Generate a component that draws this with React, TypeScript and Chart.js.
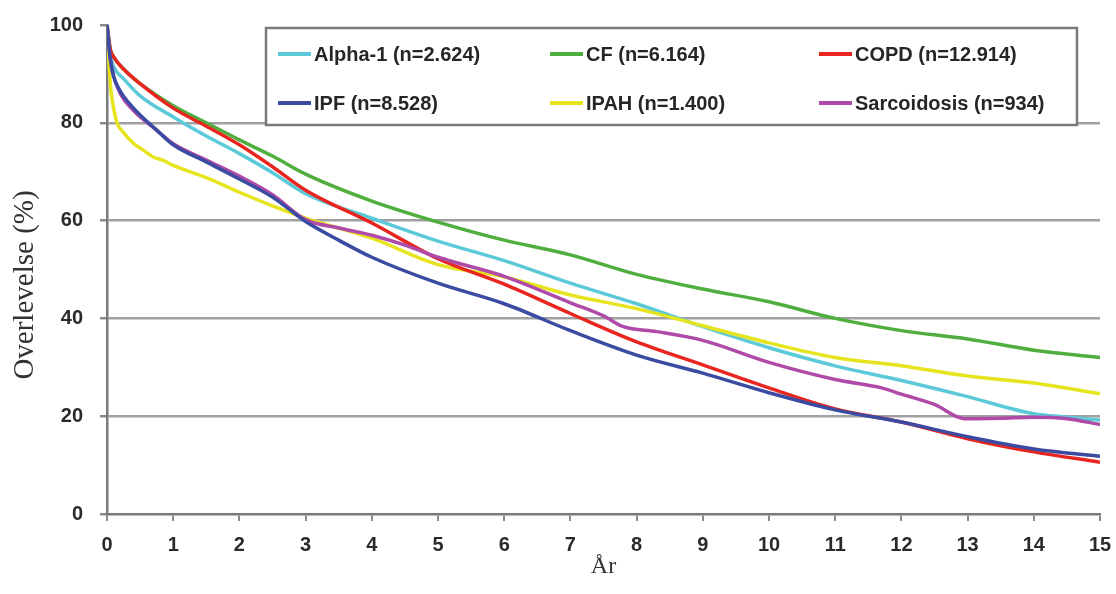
import React, { useEffect, useRef } from "react";
import { Chart, registerables } from "chart.js";

Chart.register(...registerables);

const xTicks = [0, 1, 2, 3, 4, 5, 6, 7, 8, 9, 10, 11, 12, 13, 14, 15];
const yTicks = [0, 20, 40, 60, 80, 100];

const alphaYears = [0, 0.05, 0.1, 0.25, 0.5, 1, 1.5, 2, 2.5, 3, 4, 5, 6, 7, 8, 9, 10, 11, 12, 13, 14, 14.5, 15];
const alphaValues = [100, 94, 91.5, 89, 85.5, 81.2, 77.3, 73.7, 69.8, 65.5, 60.5, 55.8, 51.8, 47.2, 43, 38.3, 34, 30.3, 27.3, 24, 20.5, 19.8, 19.2];

const cfYears = [0, 0.05, 0.1, 0.25, 0.5, 1, 1.5, 2, 2.5, 3, 4, 5, 6, 7, 8, 9, 10, 11, 12, 13, 14, 15];
const cfValues = [100, 95, 93.5, 91, 88, 83.5, 80, 76.5, 73.2, 69.5, 64, 59.7, 56, 53, 49, 46, 43.4, 40, 37.5, 35.8, 33.5, 32];

const copdYears = [0, 0.05, 0.1, 0.25, 0.5, 1, 1.5, 2, 2.5, 3, 4, 5, 6, 7, 8, 9, 10, 11, 12, 13, 14, 15];
const copdValues = [100, 95, 93.5, 91, 88, 83, 79.3, 75.5, 71, 66.2, 59.5, 52.2, 47, 41, 35.2, 30.5, 25.8, 21.5, 18.8, 15.4, 12.7, 10.6];

const ipfYears = [0, 0.05, 0.1, 0.2, 0.4, 0.75, 1, 1.5, 2, 2.5, 3, 3.5, 4, 5, 6, 7, 8, 9, 10, 11, 12, 13, 14, 15];
const ipfValues = [100, 93, 89.5, 86.5, 83, 78.5, 75.5, 72, 68.5, 64.8, 59.8, 56, 52.5, 47.2, 43, 37.5, 32.5, 28.8, 24.8, 21.3, 18.8, 15.8, 13.3, 11.8];

const ipahYears = [0, 0.03, 0.06, 0.1, 0.15, 0.25, 0.4, 0.55, 0.7, 0.85, 1, 1.5, 2, 2.5, 3, 4, 5, 6, 7, 8, 9, 10, 11, 12, 13, 14, 15];
const ipahValues = [100, 92, 86.5, 83, 80, 78, 75.8, 74.4, 73, 72.3, 71.3, 68.8, 65.8, 63, 60.5, 56.4, 51, 48.5, 44.8, 42, 38.5, 35, 32, 30.3, 28.2, 26.8, 24.6];

const sarcYears = [0, 0.05, 0.1, 0.2, 0.4, 0.75, 1, 1.5, 2, 2.5, 3, 3.5, 4, 4.5, 5, 6, 7, 7.5, 7.8, 8.3, 9, 10, 11, 11.7, 12, 12.5, 12.95, 13.5, 14, 14.5, 15];
const sarcValues = [100, 93, 89.5, 86, 82.5, 78.5, 75.7, 72.4, 69.1, 65.3, 60.2, 58.5, 57, 55, 52.5, 48.6, 43.2, 40.5, 38.3, 37.3, 35.5, 31, 27.5, 25.8, 24.5, 22.4, 19.5, 19.6, 19.8, 19.5, 18.3];

const seriesLabels = [
  "Alpha-1 (n=2.624)",
  "CF (n=6.164)",
  "COPD (n=12.914)",
  "IPF (n=8.528)",
  "IPAH (n=1.400)",
  "Sarcoidosis (n=934)",
];
const seriesColors = ["#5cc9d9", "#4fae3e", "#e8261f", "#3c4ba2", "#e6e41e", "#b04aa9"];

const yTitle = "Overlevelse (%)";
const xTitle = "År";

const pts = (xs: number[], ys: number[]) => xs.map((x, i) => ({ x, y: ys[i] }));

const overlayPlugin = {
  id: "overlay",
  afterDraw(chart: any) {
    const ctx = chart.ctx;
    ctx.save();
    // legend box
    const bx = 266, by = 28, bw = 811, bh = 97;
    ctx.fillStyle = "#ffffff";
    ctx.fillRect(bx, by, bw, bh);
    ctx.strokeStyle = "#7a7a7a";
    ctx.lineWidth = 2.5;
    ctx.strokeRect(bx, by, bw, bh);
    const colX = [278, 550, 819];
    const rowY = [54, 103];
    ctx.font = "bold 20px 'Liberation Sans', Arial, sans-serif";
    ctx.textBaseline = "middle";
    ctx.textAlign = "left";
    seriesLabels.forEach((lab, i) => {
      const c = i % 3;
      const r = Math.floor(i / 3);
      const x = colX[c];
      const y = rowY[r];
      ctx.strokeStyle = seriesColors[i];
      ctx.lineWidth = 4;
      ctx.beginPath();
      ctx.moveTo(x, y);
      ctx.lineTo(x + 33, y);
      ctx.stroke();
      ctx.fillStyle = "#262626";
      ctx.fillText(lab, x + 36, y + 1);
    });
    // y-axis title
    ctx.translate(25, 285);
    ctx.rotate(-Math.PI / 2);
    ctx.font = "29px 'Liberation Serif', 'Times New Roman', serif";
    ctx.textAlign = "center";
    ctx.textBaseline = "middle";
    ctx.fillStyle = "#333333";
    ctx.fillText(yTitle, 0, 0);
    ctx.restore();
  },
};

export default function App() {
  const ref = useRef<HTMLCanvasElement | null>(null);
  useEffect(() => {
    if (!ref.current) return;
    const mk = (i: number, xs: number[], ys: number[]) => ({
      label: seriesLabels[i],
      data: pts(xs, ys),
      borderColor: seriesColors[i],
      backgroundColor: seriesColors[i],
      borderWidth: 3.5,
      pointRadius: 0,
      fill: false,
      cubicInterpolationMode: "monotone" as const,
    });
    const chart = new Chart(ref.current, {
      type: "line",
      data: {
        datasets: [
          mk(3, ipfYears, ipfValues),
          mk(5, sarcYears, sarcValues),
          mk(2, copdYears, copdValues),
          mk(4, ipahYears, ipahValues),
          mk(0, alphaYears, alphaValues),
          mk(1, cfYears, cfValues),
        ],
      },
      options: {
        animation: false,
        responsive: false,
        layout: { padding: { top: 25, right: 16, left: 0, bottom: 0 } },
        plugins: { legend: { display: false }, tooltip: { enabled: false } },
        scales: {
          x: {
            type: "linear",
            min: 0,
            max: 15,
            afterBuildTicks: (s: any) => {
              s.ticks = xTicks.map((v) => ({ value: v }));
            },
            afterFit: (s: any) => {
              s.height = 80;
              s.paddingLeft = 0;
              s.paddingRight = 0;
            },
            ticks: {
              color: "#2a2a2a",
              font: { family: "'Liberation Sans', Arial, sans-serif", size: 20, weight: "bold" },
              padding: 12,
              maxRotation: 0,
            },
            grid: {
              drawOnChartArea: false,
              drawTicks: true,
              tickLength: 7,
              tickColor: "#8a8a8a",
              lineWidth: 2,
            },
            border: { display: true, color: "#7a7a7a", width: 2.5 },
            title: {
              display: true,
              text: xTitle,
              color: "#333333",
              font: { family: "'Liberation Serif', 'Times New Roman', serif", size: 24 },
              padding: { top: 4, bottom: 13 },
            },
          },
          y: {
            type: "linear",
            min: 0,
            max: 100,
            afterBuildTicks: (s: any) => {
              s.ticks = yTicks.map((v) => ({ value: v }));
            },
            afterFit: (s: any) => {
              s.width = 107;
              s.paddingTop = 0;
              s.paddingBottom = 0;
            },
            ticks: {
              color: "#2a2a2a",
              font: { family: "'Liberation Sans', Arial, sans-serif", size: 20, weight: "bold" },
              padding: 17,
            },
            grid: {
              color: (c: any) =>
                c.tick && (c.tick.value === 0 || c.tick.value === 100) ? "rgba(0,0,0,0)" : "#a0a0a0",
              tickColor: "#8a8a8a",
              lineWidth: 2.5,
              tickLength: 7,
            },
            border: { display: true, color: "#7a7a7a", width: 2.5 },
          },
        },
      },
      plugins: [overlayPlugin],
    });
    return () => chart.destroy();
  }, []);
  return (
    <div style={{ position: "fixed", left: 0, top: 0, width: 1116, height: 594, background: "#ffffff" }}>
      <canvas ref={ref} width={1116} height={594} />
    </div>
  );
}
